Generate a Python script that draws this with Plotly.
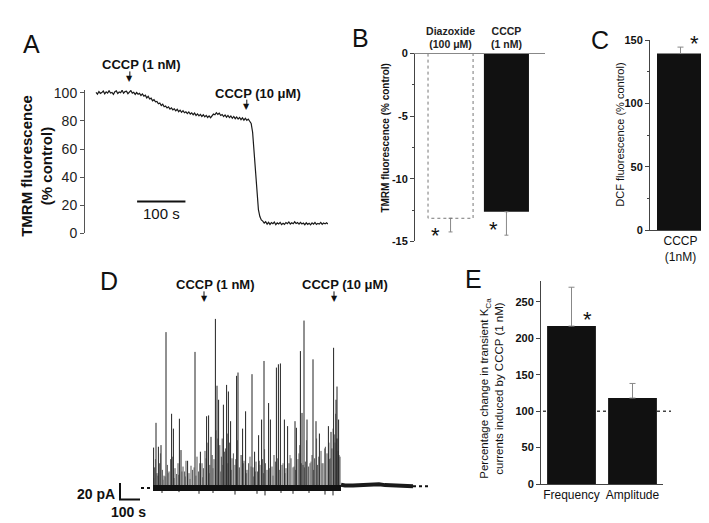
import plotly.graph_objects as go

W, H = 709, 523
def fx(px): return px / W
def fy(py): return 1 - py / H

FONT = "Liberation Sans, Arial, sans-serif"

# ---------------- Panel A data ----------------
a_time = list(range(0, 483, 3))  # s
a_tmrm = [100.4, 99.1, 100.9, 99.6, 100.2, 101.3, 99.3, 100.7, 99.8, 101.5,
          99.9, 100.3, 98.9, 100.8, 101.4, 99.5, 100.6, 100.1, 101.8, 99.7,
          100.9, 101.2, 99.4, 100.5, 101.6, 99.8, 100.4, 98.9, 100.2, 99.0,
          99.6, 98.1, 99.2, 97.6, 98.3, 96.4, 97.5, 95.6, 96.2, 94.3,
          95.1, 93.6, 93.9, 92.2, 92.8, 91.0, 91.9, 90.1, 90.6, 89.2,
          90.0, 88.4, 89.3, 87.9, 88.6, 87.2, 88.3, 86.6, 87.7, 86.1,
          87.3, 85.8, 86.5, 85.2, 86.4, 84.9, 85.8, 84.4, 85.6, 83.9,
          85.0, 83.6, 84.7, 83.2, 84.4, 82.9, 84.0, 82.5, 83.6, 82.3,
          83.8, 84.9, 84.4, 85.9, 84.7, 85.5, 83.9, 84.6, 83.1, 84.3,
          82.7, 83.9, 82.4, 83.5, 81.9, 83.2, 81.6, 82.8, 81.3, 82.5,
          80.9, 82.2, 80.6, 81.9, 80.4, 81.3, 79.8, 78.2, 72, 58,
          40, 26, 17, 12, 9.6, 8.8, 7.4, 8.3, 6.6, 7.9,
          6.4, 7.7, 6.9, 8.1, 6.2, 7.5, 6.8, 7.9, 6.3, 7.2,
          6.5, 7.8, 7.0, 8.2, 6.7, 7.6, 6.9, 8.3, 7.1, 7.7,
          6.6, 7.9, 6.8, 7.4, 6.2, 7.6, 6.5, 7.3, 6.1, 7.5,
          6.6, 7.8, 6.4, 7.2, 6.7, 7.9, 6.5, 7.4, 6.8, 7.6,
          6.7]
a_cccp_times = [70, 312]
a_cccp_labels = ["CCCP (1 nM)", "CCCP (10 μM)"]

# ---------------- Panel B data ----------------
b_labels = ["Diazoxide<br>(100 μM)", "CCCP<br>(1 nM)"]
b_values = [-13.15, -12.63]
b_err = [1.09, 1.87]
b_ticks = [-15, -10, -5, 0]

# ---------------- Panel C data ----------------
c_labels = ["CCCP<br>(1nM)"]
c_values = [139.5]
c_err = [5.1]
c_ticks = [0, 50, 100, 150]

# ---------------- Panel D data ----------------
d_spike_t = [3, 15, 27, 40, 65, 93, 102, 132, 140, 173, 210, 237, 268, 278, 290,
             312, 320, 328, 352, 368, 377, 388, 418, 425, 448, 463, 495, 508, 528,
             543, 555, 578, 587, 617, 627, 637, 657, 673, 710, 717, 737, 745, 755,
             770, 800, 815, 832, 877, 890, 903, 915, 920, 928]
d_spike_amp = [49, 79, 50, 52, 189, 90, 72, 84, 46, 33, 165, 44, 87, 88, 62,
               205, 124, 107, 101, 125, 117, 81, 136, 140, 72, 93, 138, 44, 64,
               83, 154, 103, 83, 146, 150, 151, 83, 75, 81, 73, 166, 91, 203,
               83, 156, 81, 66, 75, 68, 170, 107, 123, 83]
d_small_t = [8, 20, 33, 47, 55, 72, 80, 88, 110, 118, 125, 150, 158, 165, 180,
             190, 198, 220, 228, 245, 252, 260, 284, 296, 305, 334, 342, 346, 358, 362,
             374, 383, 395, 402, 410, 432, 440, 455, 470, 478, 485, 500, 515, 522, 535,
             548, 562, 570, 595, 605, 612, 645, 665, 680, 690, 700, 725, 730, 750, 762,
             778, 785, 795, 808, 822, 840, 850, 862, 870, 882, 895, 910, 918, 925, 935]
d_small_amp = [25, 18, 30, 22, 15, 28, 20, 35, 24, 17, 30, 26, 20, 33, 18,
               27, 22, 38, 20, 30, 24, 45, 28, 40, 35, 52, 38, 60, 44, 48,
               30, 55, 36, 42, 28, 25, 40, 33, 22, 30, 38, 25, 32, 20, 28,
               35, 30, 22, 26, 40, 32, 28, 24, 30, 36, 25, 35, 42, 28, 32,
               26, 30, 40, 36, 28, 45, 30, 50, 42, 35, 48, 55, 60, 45, 38]
d_small2_t = [5, 12, 24, 37, 50, 60, 76, 98, 106, 128, 145, 162, 185, 205, 215,
              233, 248, 265, 274, 282, 300, 315, 324, 338, 348, 365, 372, 392, 413, 422,
              445, 452, 468, 490, 503, 512, 532, 552, 558, 583, 600, 622, 633, 650, 660,
              685, 705, 713, 733, 742, 758, 768, 790, 803, 818, 828, 845, 858, 880, 886,
              900, 908, 913, 923, 931]
d_small2_amp = [12, 35, 15, 42, 10, 14, 18, 38, 12, 16, 20, 14, 11, 25, 15,
                30, 13, 36, 55, 18, 24, 70, 60, 20, 28, 45, 66, 22, 35, 58,
                40, 30, 18, 26, 14, 20, 33, 18, 47, 24, 15, 36, 22, 30, 18,
                40, 26, 22, 52, 30, 25, 58, 32, 22, 60, 38, 30, 48, 55, 36,
                72, 65, 90, 60, 40]
d_dip_t = [45, 130, 230, 300, 410, 520, 560, 640, 700, 780, 860, 900]
d_dip_amp = [-6, -5, -7, -6, -8, -7, -9, -6, -7, -6, -8, -9]
d_active_t = [0, 940]
d_active_y = [0, 0]
d_quiet_t = [940, 960, 1000, 1050, 1080, 1100, 1130, 1160, 1200, 1250, 1300]
d_quiet_y = [4, 3, 3, 3.5, 4.5, 5, 4.5, 3.5, 3, 2.5, 2]
d_cccp_times = [255, 905]
d_cccp_labels = ["CCCP (1 nM)", "CCCP (10 μM)"]
d_scale_pA = 20
d_scale_s = 100

# ---------------- Panel E data ----------------
e_labels = ["Frequency", "Amplitude"]
e_values = [216.7, 118]
e_err = [53.3, 20]
e_ticks = [0, 50, 100, 150, 200, 250]

fig = go.Figure()

# A trace
fig.add_trace(go.Scatter(x=a_time, y=a_tmrm, mode="lines",
                         line=dict(color="#1a1a1a", width=1.2), xaxis="x", yaxis="y"))

# B bars
bw_b = 0.806
fig.add_trace(go.Bar(x=[0, 1], y=b_values, width=bw_b,
                     marker=dict(color=["white", "#111"], line=dict(width=0)),
                     error_y=dict(type="data", symmetric=False, array=[0, 0],
                                  arrayminus=b_err, color="#888", thickness=1, width=2),
                     xaxis="x2", yaxis="y2"))
fig.add_trace(go.Scatter(x=[-bw_b / 2, -bw_b / 2, bw_b / 2, bw_b / 2],
                         y=[0, b_values[0], b_values[0], 0], mode="lines",
                         line=dict(color="#777", width=1, dash="dot"),
                         xaxis="x2", yaxis="y2"))

# C bar
fig.add_trace(go.Bar(x=[0], y=c_values, width=1,
                     marker=dict(color="#111", line=dict(width=0)),
                     error_y=dict(type="data", symmetric=False, array=c_err,
                                  arrayminus=[0], color="#888", thickness=1, width=3),
                     xaxis="x3", yaxis="y3"))

# D traces
def vlines(ts, amps):
    xs, ys = [], []
    for t, a in zip(ts, amps):
        xs += [t, t, None]
        ys += [0, a, None]
    return xs, ys

for ts, amps, col in [(d_small2_t, d_small2_amp, "#777"), (d_small_t, d_small_amp, "#555"),
                      (d_spike_t, d_spike_amp, "#222"), (d_dip_t, d_dip_amp, "#222")]:
    xs, ys = vlines(ts, amps)
    fig.add_trace(go.Scatter(x=xs, y=ys, mode="lines", line=dict(color=col, width=1),
                             xaxis="x4", yaxis="y4"))
fig.add_trace(go.Scatter(x=d_active_t, y=d_active_y, mode="lines",
                         line=dict(color="#111", width=6), xaxis="x4", yaxis="y4"))
fig.add_trace(go.Scatter(x=d_quiet_t, y=d_quiet_y, mode="lines",
                         line=dict(color="#1a1a1a", width=4), xaxis="x4", yaxis="y4"))
fig.add_trace(go.Scatter(x=[-60, d_active_t[0]], y=[0, 0], mode="lines",
                         line=dict(color="#111", width=2, dash="dot"), xaxis="x4", yaxis="y4"))
fig.add_trace(go.Scatter(x=[d_quiet_t[-1], d_quiet_t[-1] + 75], y=[d_quiet_y[-1]] * 2, mode="lines",
                         line=dict(color="#111", width=2, dash="dot"), xaxis="x4", yaxis="y4"))
sb_x0, sb_y0 = -165, -14
fig.add_trace(go.Scatter(x=[sb_x0, sb_x0, sb_x0 + d_scale_s], y=[sb_y0 + d_scale_pA, sb_y0, sb_y0],
                         mode="lines", line=dict(color="#111", width=2), xaxis="x4", yaxis="y4"))

# E bars
fig.add_trace(go.Bar(x=[0, 1], y=e_values, width=0.8,
                     marker=dict(color="#111", line=dict(width=0)),
                     error_y=dict(type="data", symmetric=False, array=e_err,
                                  arrayminus=[0, 0], color="#888", thickness=1, width=3),
                     xaxis="x5", yaxis="y5"))

axis_common = dict(showgrid=False, zeroline=False)
tickfont_bold = dict(family=FONT, size=11, color="#111")
def bold_ticks(vals):
    return [f"<b>{str(v)}</b>" for v in vals]

xA = dict(domain=[fx(77), fx(320)], range=[-22.8, 480])
yA = dict(domain=[fy(225.5), fy(78.1)], range=[0, 102])
xB = dict(domain=[fx(407), fx(537)], range=[-0.636, 1.69])
yB = dict(domain=[fy(233.7), fy(40.7)], range=[-15, 0])
xC = dict(domain=[fx(642), fx(702)], range=[-0.649, 0.628])
yC = dict(domain=[fy(222), fy(27)], range=[0, 150])
xD = dict(domain=[fx(105), fx(422)], range=[-200, 1385])
yD = dict(domain=[fy(515), fy(300)], range=[-33, 220.7])
xE = dict(domain=[fx(533), fx(655)], range=[-0.5, 1.5])
yE = dict(domain=[fy(483), fy(274)], range=[0, 279])

fig.update_layout(
    width=W, height=H, margin=dict(l=0, r=0, t=0, b=0),
    paper_bgcolor="white", plot_bgcolor="rgba(0,0,0,0)", showlegend=False,
    font=dict(family=FONT, color="#111"),
    xaxis=dict(**axis_common, **xA, visible=False, anchor="y"),
    yaxis=dict(**axis_common, **yA, anchor="x", showline=True, linecolor="#555", linewidth=1,
               ticks="outside", ticklen=4, tickcolor="#555", tickvals=[0, 20, 40, 60, 80, 100],
               tickfont=dict(family=FONT, size=14, color="#222")),
    xaxis2=dict(**axis_common, **xB, anchor="y2", side="top", showline=True, linecolor="#888",
                ticks="", tickvals=[0, 1], ticktext=[f"<b>{t}</b>" for t in b_labels],
                tickfont=dict(family=FONT, size=10.5, color="#222")),
    yaxis2=dict(**axis_common, **yB, anchor="x2", showline=True, linecolor="#444",
                ticks="outside", ticklen=4, tickcolor="#444", tickvals=b_ticks,
                ticktext=bold_ticks(b_ticks),
                minor=dict(ticks="outside", ticklen=2, dtick=2.5, tickcolor="#444"),
                tickfont=tickfont_bold),
    xaxis3=dict(**axis_common, **xC, anchor="y3", showline=True, linecolor="#444",
                ticks="", tickvals=[0], ticktext=c_labels,
                tickfont=dict(family=FONT, size=12, color="#111")),
    yaxis3=dict(**axis_common, **yC, anchor="x3", showline=True, linecolor="#444",
                ticks="outside", ticklen=4, tickcolor="#444", tickvals=c_ticks,
                ticktext=bold_ticks(c_ticks),
                minor=dict(ticks="outside", ticklen=2, dtick=25, tickcolor="#444"),
                tickfont=tickfont_bold),
    xaxis4=dict(**axis_common, **xD, visible=False, anchor="y4"),
    yaxis4=dict(**axis_common, **yD, visible=False, anchor="x4"),
    xaxis5=dict(**axis_common, **xE, anchor="y5", showline=True, linecolor="#444",
                ticks="", tickvals=[0, 1], ticktext=e_labels,
                tickfont=dict(family=FONT, size=12, color="#111")),
    yaxis5=dict(**axis_common, **yE, anchor="x5", showline=True, linecolor="#444",
                ticks="outside", ticklen=4, tickcolor="#444", tickvals=e_ticks,
                ticktext=bold_ticks(e_ticks), tickfont=tickfont_bold),
)

ann = []
for t, x, y in [("A", 23, 31), ("B", 352, 24.5), ("C", 592, 27), ("D", 101, 274), ("E", 465, 272)]:
    ann.append(dict(text=t, x=fx(x), y=fy(y), xref="paper", yref="paper", showarrow=False,
                    xanchor="center", yanchor="middle", font=dict(family=FONT, size=25, color="#111")))

def ytitle(t, x, y, size):
    ann.append(dict(text=t, x=fx(x), y=fy(y), xref="paper", yref="paper", showarrow=False,
                    textangle=-90, xanchor="center", yanchor="middle",
                    font=dict(family=FONT, size=size, color="#111")))
ytitle("<b>TMRM fluorescence<br>(% control)</b>", 29, 156, 15)
ytitle("<b>TMRM fluorescence (% control)</b>", 378, 127, 10)
ytitle("DCF fluorescence (% control)", 612, 124, 11)
ytitle("Percentage change in transient K<sub>Ca</sub><br>currents induced by CCCP (1 nM)", 484, 385, 11.5)

lab_font = dict(family=FONT, size=13, color="#111")
def drug_arrow(t, xref, tip_py, lab_py, lab):
    fig.add_shape(type="line", x0=t, x1=t, y0=fy(tip_py - 13), y1=fy(tip_py - 5),
                  xref=xref, yref="paper", line=dict(color="#111", width=1))
    ann.append(dict(text="▼", x=t, y=fy(tip_py), xref=xref, yref="paper", showarrow=False,
                    xanchor="center", yanchor="bottom", yshift=-1,
                    font=dict(family="DejaVu Sans", size=8, color="#111")))
    ann.append(dict(text=f"<b>{lab}</b>", x=t, y=fy(lab_py), xref=xref, yref="paper", showarrow=False,
                    xanchor="center", yanchor="middle", xshift=11, font=lab_font))

for t, lab, tip, ly in zip(a_cccp_times, a_cccp_labels, [72, 101], [51.5, 82]):
    drug_arrow(t, "x", tip, ly, lab)
for t, lab in zip(d_cccp_times, d_cccp_labels):
    drug_arrow(t, "x4", 298, 278, lab)

# A scale bar
fig.add_shape(type="line", x0=85, x1=185, y0=22.8, y1=22.8, xref="x", yref="y",
              line=dict(color="#111", width=2))
ann.append(dict(text="100 s", x=135, y=14, xref="x", yref="y", showarrow=False,
                font=dict(family=FONT, size=15, color="#111")))

# D scale labels
sfont = dict(family=FONT, size=14, color="#111")
ann.append(dict(text=f"<b>{d_scale_pA} pA</b>", x=sb_x0, y=sb_y0 + d_scale_pA / 2 - 3, xref="x4", yref="y4",
                showarrow=False, xanchor="right", xshift=-3, font=sfont))
ann.append(dict(text=f"<b>{d_scale_s} s</b>", x=sb_x0 + d_scale_s / 2, y=sb_y0, xref="x4", yref="y4",
                showarrow=False, yanchor="top", xshift=-2, yshift=-2, font=sfont))

# asterisks
astf = dict(family=FONT, size=22, color="#111")
ann.append(dict(text="*", x=-0.265, y=-14.11, xref="x2", yref="y2", showarrow=False, yshift=-5, font=astf))
ann.append(dict(text="*", x=0.774, y=-13.68, xref="x2", yref="y2", showarrow=False, yshift=-5, font=astf))
ann.append(dict(text="*", x=fx(686), y=fy(25), xref="paper", yref="paper", xanchor="center",
                yanchor="middle", showarrow=False, yshift=-5, font=astf))
ann.append(dict(text="*", x=0.27, y=233, xref="x5", yref="y5", showarrow=False, yshift=-5, font=astf))

fig.update_layout(annotations=ann)

y100 = yE["domain"][0] + (100 - yE["range"][0]) / (yE["range"][1] - yE["range"][0]) * (yE["domain"][1] - yE["domain"][0])
fig.add_shape(type="line", x0=fx(535), x1=fx(663), y0=y100, y1=y100, xref="paper", yref="paper",
              line=dict(color="#444", width=1.5, dash="dot"), layer="below")

fig.write_html("out.html")
